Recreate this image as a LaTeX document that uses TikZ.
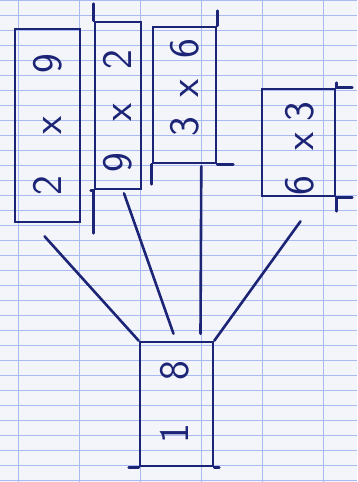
\documentclass[tikz,border=0pt]{standalone}
\usetikzlibrary{calc}
\definecolor{ink}{RGB}{28,36,118}
\definecolor{paper}{RGB}{244,245,250}
\definecolor{gridblue}{RGB}{168,186,240}
\tikzset{
  box/.style={draw=ink, line width=2.6pt, rectangle, inner sep=0pt},
  lab/.style={text=ink, font=\sffamily\fontsize{42}{42}\selectfont, rotate=90, inner sep=0pt},
  wire/.style={draw=ink, line width=2.6pt, line cap=round},
  rule/.style={draw=gridblue, line width=0.7pt}
}
\begin{document}
\begin{tikzpicture}[x=1pt,y=-1pt]
\fill[paper] (0,0) rectangle (357,482);
\useasboundingbox (0,0) rectangle (357,482);
% graph paper
\foreach \yy in {0,15,...,480} \draw[rule] (0,\yy) -- (357,\yy);
\foreach \xx in {18,79,140,201,262,323} \draw[rule] (\xx,0) -- (\xx,482);
% boxes
\node[box, minimum width=65pt, minimum height=193pt] (b1) at (47.5,125.5) {};
\node[box, minimum width=46pt, minimum height=167pt] (b2) at (118,105.5) {};
\node[box, minimum width=63pt, minimum height=136pt] (b3) at (184.5,95) {};
\node[box, minimum width=73pt, minimum height=107pt] (b4) at (298.5,142.5) {};
\node[box, minimum width=73pt, minimum height=124pt] (b0) at (176.5,404) {};
% overshoots of the hand-drawn edges
\draw[wire] (b2.north west) -- ++(0,-17);
\draw[wire] (b2.south west) -- ++(0,43);
\draw[wire] (b2.south west) -- ++(-3,0);
\draw[wire] (b3.south west) -- ++(0,20);
\draw[wire] (b3.north east) -- ++(0,-15);
\draw[wire] (b3.south east) -- ++(16,0);
\draw[wire] (b4.north east) -- ++(16,0);
\draw[wire] (b4.south east) -- ++(16,0);
\draw[wire] (b4.south east) -- ++(0,14);
\draw[wire] (b4.north east) -- ++(0,-5);
\draw[wire] (b0.south west) -- ++(-10,0);
\draw[wire] (b0.south east) -- ++(5,0);
% labels
\node[lab] (t1) at (48,125) {2\hspace{42pt}x\hspace{42pt}9};
\node[lab] (t2) at (118,111) {9\hspace{31pt}x\hspace{34pt}2};
\node[lab] (t3) at (185,88) {3\hspace{20pt}x\hspace{20pt}6};
\node[lab] (t4) at (300,149) {6\hspace{26pt}x\hspace{10pt}3};
\node[lab] (t0) at (175,402) {1\hspace{43pt}8};
% connectors
\coordinate (c1) at ($(b1.south)+(-3,13)$);
\coordinate (c2) at ($(b2.south)+(6,3)$);
\coordinate (c3) at ($(b3.south east)+(-16,2)$);
\coordinate (c4) at ($(b4.south)+(2,24)$);
\draw[wire] (c1) -- (b0.north west);
\draw[wire] (c2) -- ($(b0.north)+(-3,-7)$);
\draw[wire] (c3) -- ($(b0.north)+(24,-7)$);
\draw[wire] (c4) -- (b0.north east);
\end{tikzpicture}
\end{document}
